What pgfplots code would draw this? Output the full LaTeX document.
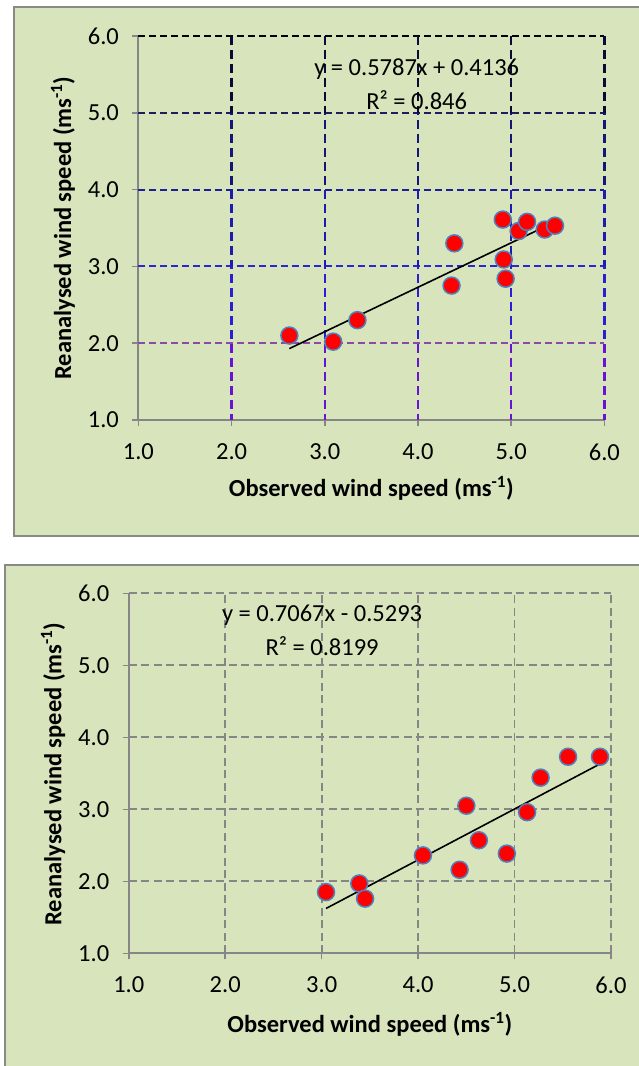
\documentclass[border=0pt]{standalone}
\usepackage{pgfplots}
\pgfplotsset{compat=1.18}
\usepackage{fontspec}
\setmainfont{Carlito}
\definecolor{panelgreen}{RGB}{216,228,188}
\definecolor{bordergray}{RGB}{137,137,137}
\definecolor{axgray}{RGB}{134,134,134}
\definecolor{gridgray}{RGB}{134,134,134}
\definecolor{mkblue}{RGB}{79,129,189}
\definecolor{hgsix}{RGB}{0,0,0}
\definecolor{hgfive}{RGB}{30,30,95}
\definecolor{hgfour}{RGB}{30,30,150}
\definecolor{hgthree}{RGB}{40,40,210}
\definecolor{hgtwo}{RGB}{138,74,168}
\definecolor{vga}{RGB}{10,10,55}
\definecolor{vgb}{RGB}{22,22,120}
\definecolor{vgc}{RGB}{28,28,175}
\definecolor{vgd}{RGB}{45,30,212}
\definecolor{vge}{RGB}{105,20,212}
\newcommand\fs{\fontsize{24.5}{29}\selectfont}
\tikzset{
  hdash/.style={line width=2pt, dash pattern=on 7pt off 4pt},
  vdash/.style={line width=2.5pt, dash pattern=on 9pt off 5pt},
}
\pgfplotsset{
  panel/.style={
    scale only axis, clip=false,
    xmin=1, xmax=6, ymin=1, ymax=6,
    xtick={1,2,3,4,5,6}, ytick={1,2,3,4,5,6},
    axis x line*=bottom, axis y line*=left,
    axis line style={axgray, line width=2pt},
    tick align=outside, major tick length=6pt,
    major tick style={axgray, line width=1.6pt},
    tick label style={font=\fs, black},
    xticklabel shift=14pt, yticklabel shift=10pt,
    /pgf/number format/.cd, fixed, fixed zerofill, precision=1, assume math mode=true, /pgfplots/.cd,
  },
  pts/.style={only marks, mark=*, mark size=8.5pt, mark options={fill=red, draw=mkblue, line width=1.5pt}},
}
\begin{document}
\begin{tikzpicture}
\clip (0pt,0pt) rectangle (639pt,1066pt);
\fill[white] (0pt,0pt) rectangle (639pt,1066pt);
\draw[bordergray, line width=1.8pt, fill=panelgreen] (14pt,530.3pt) rectangle (660pt,1058.6pt);
\draw[bordergray, line width=1.8pt, fill=panelgreen] (5pt,-20pt) rectangle (660pt,500.7pt);

% ---------- top panel ----------
\begin{axis}[panel, at={(138.4pt,646pt)}, anchor=south west, width=466pt, height=384pt]
\draw[hgsix, hdash] (axis cs:1,6) -- (axis cs:6,6);
\draw[hgfive, hdash] (axis cs:1,5) -- (axis cs:6,5);
\draw[hgfour, hdash] (axis cs:1,4) -- (axis cs:6,4);
\draw[hgthree, hdash] (axis cs:1,3) -- (axis cs:6,3);
\draw[hgtwo, hdash] (axis cs:1,2) -- (axis cs:6,2);
\pgfplotsinvokeforeach{2,3,4,5,6}{
  \draw[vga, vdash, dash phase=0pt] (axis cs:#1,6) -- (axis cs:#1,5);
  \draw[vgb, vdash, dash phase=76.8pt] (axis cs:#1,5) -- (axis cs:#1,4);
  \draw[vgc, vdash, dash phase=153.6pt] (axis cs:#1,4) -- (axis cs:#1,3);
  \draw[vgd, vdash, dash phase=230.4pt] (axis cs:#1,3) -- (axis cs:#1,2);
  \draw[vge, vdash, dash phase=307.2pt] (axis cs:#1,2) -- (axis cs:#1,1);
}
\addplot[pts] coordinates {
 (2.62,2.10) (3.09,2.02) (3.35,2.30) (4.36,2.75) (4.39,3.30)
 (4.92,3.09) (4.94,2.84) (4.91,3.61) (5.08,3.46) (5.36,3.48)
 (5.47,3.53) (5.17,3.58)
};
\addplot[black, line width=1.6pt] coordinates {(2.62,1.9298) (5.47,3.5791)};
\node[font=\fs] at (axis cs:3.986,5.566) {y = 0.5787x + 0.4136};
\node[font=\fs] at (axis cs:3.986,5.169) {R² = 0.846};
\node[font=\fs\bfseries] at (axis description cs:0.5,-0.179) {Observed wind speed (ms\textsuperscript{-1})};
\node[font=\fs\bfseries, rotate=90] at (axis description cs:-0.162,0.5) {Reanalysed wind speed (ms\textsuperscript{-1})};
\end{axis}

% ---------- bottom panel ----------
\begin{axis}[panel, at={(128.8pt,112.7pt)}, anchor=south west, width=482.2pt, height=360pt,
  grid=major, major grid style={gridgray, line width=1.7pt, dash pattern=on 8pt off 4.5pt}]
\addplot[pts] coordinates {
 (3.045,1.85) (3.39,1.97) (3.45,1.76) (4.05,2.36) (4.43,2.16)
 (4.50,3.05) (4.63,2.57) (4.92,2.385) (5.13,2.96) (5.27,3.44)
 (5.555,3.73) (5.886,3.73)
};
\addplot[black, line width=1.6pt] coordinates {(3.045,1.6226) (5.886,3.6303)};
\node[font=\fs] at (axis cs:3.004,5.693) {y = 0.7067x - 0.5293};
\node[font=\fs] at (axis cs:3.004,5.26) {R² = 0.8199};
\node[font=\fs\bfseries] at (axis description cs:0.5,-0.198) {Observed wind speed (ms\textsuperscript{-1})};
\node[font=\fs\bfseries, rotate=90] at (axis description cs:-0.157,0.498) {Reanalysed wind speed (ms\textsuperscript{-1})};
\end{axis}
\end{tikzpicture}
\end{document}
